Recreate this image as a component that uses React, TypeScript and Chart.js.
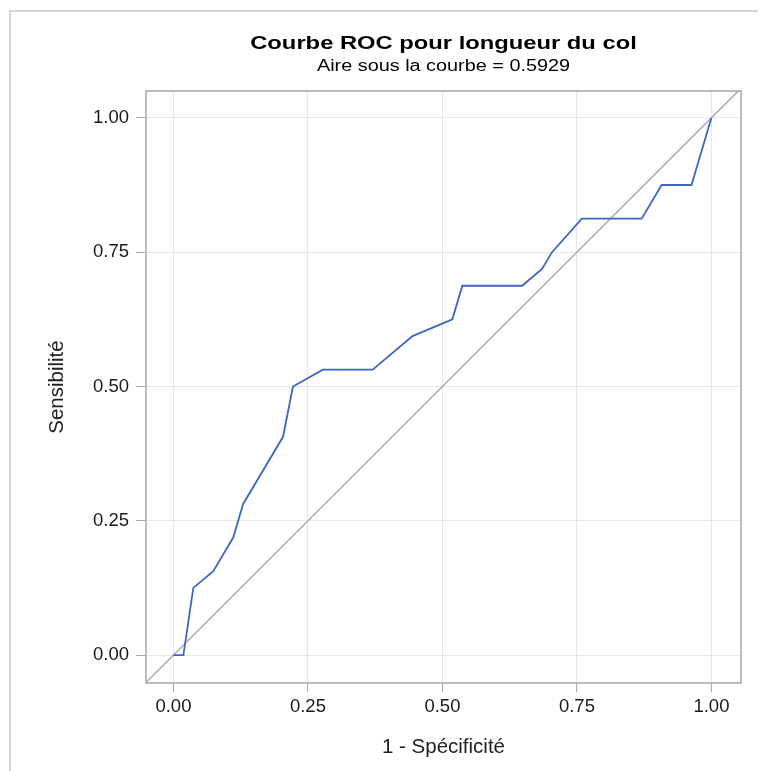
import React, { useEffect, useRef } from "react";
import { Chart, registerables } from "chart.js";

Chart.register(...registerables);

// ROC curve points (1 - specificity, sensitivity)
const fpr = [0, 0.0185, 0.037, 0.0741, 0.1111, 0.1296, 0.2037, 0.2222, 0.2778, 0.3704, 0.4444, 0.5185, 0.537, 0.6481, 0.6852, 0.7037, 0.7593, 0.8704, 0.9074, 0.963, 1];
const tpr = [0, 0, 0.125, 0.1563, 0.2188, 0.2813, 0.4063, 0.5, 0.5313, 0.5313, 0.5938, 0.625, 0.6875, 0.6875, 0.7188, 0.75, 0.8125, 0.8125, 0.875, 0.875, 1];
const diagX = [-0.1, 1.1];
const diagY = [-0.1, 1.1];
const tickValues = [0, 0.25, 0.5, 0.75, 1];

const titleText = "Courbe ROC pour longueur du col";
const subtitleText = "Aire sous la courbe = 0.5929";
const xTitle = "1 - Spécificité";
const yTitle = "Sensibilité";

const W = 758;
const H = 763;
const FONT = '"Liberation Sans", Arial, sans-serif';

const decorPlugin = {
  id: "decor",
  beforeDraw(chart: any) {
    const ctx = chart.ctx;
    ctx.save();
    ctx.fillStyle = "#ffffff";
    ctx.fillRect(0, 0, chart.width, chart.height);
    ctx.fillStyle = "#d6d6d6";
    ctx.fillRect(1, 2, 2, chart.height);
    ctx.fillRect(1, 2, chart.width, 2);
    ctx.restore();
  },
  afterDraw(chart: any) {
    const ctx = chart.ctx;
    const a = chart.chartArea;
    ctx.save();
    // frame
    ctx.strokeStyle = "#a8a8a8";
    ctx.lineWidth = 1.5;
    ctx.strokeRect(a.left, a.top, a.right - a.left, a.bottom - a.top);
    const cx = (a.left + a.right) / 2;
    // title
    ctx.fillStyle = "#000";
    ctx.textAlign = "center";
    ctx.textBaseline = "alphabetic";
    ctx.save();
    ctx.translate(cx, 40.7);
    ctx.scale(1.25, 1);
    ctx.font = `bold 19px ${FONT}`;
    ctx.fillText(titleText, 0, 0);
    ctx.restore();
    ctx.save();
    ctx.translate(cx, 63.3);
    ctx.scale(1.24, 1);
    ctx.font = `16px ${FONT}`;
    ctx.fillText(subtitleText, 0, 0);
    ctx.restore();
    // axis titles
    ctx.font = `20.5px ${FONT}`;
    ctx.fillStyle = "#222";
    ctx.fillText(xTitle, cx, 744.7);
    ctx.save();
    ctx.translate(55.3, (a.top + a.bottom) / 2);
    ctx.rotate(-Math.PI / 2);
    ctx.fillText(yTitle, 0, 0);
    ctx.restore();
    ctx.restore();
  },
};

export default function App() {
  const ref = useRef<HTMLCanvasElement>(null);
  useEffect(() => {
    if (!ref.current) return;
    const setTicks = (scale: any) => {
      scale.ticks = tickValues.map((v) => ({ value: v }));
    };
    const chart = new Chart(ref.current, {
      type: "scatter",
      data: {
        datasets: [
          {
            label: "ROC",
            data: fpr.map((x, i) => ({ x, y: tpr[i] })),
            showLine: true,
            borderColor: "#3f66c4",
            borderWidth: 1.8,
            pointRadius: 0,
            fill: false,
            tension: 0,
          },
          {
            label: "Diagonale",
            data: diagX.map((x, i) => ({ x, y: diagY[i] })),
            showLine: true,
            borderColor: "#ababab",
            borderWidth: 1.5,
            pointRadius: 0,
            fill: false,
          },
        ],
      },
      options: {
        animation: false,
        responsive: false,
        devicePixelRatio: 1,
        layout: { padding: { top: 83, right: 25, bottom: 0, left: 0 } },
        plugins: {
          legend: { display: false },
          title: { display: false },
          tooltip: { enabled: false },
        },
        scales: {
          x: {
            type: "linear",
            min: -0.051,
            max: 1.055,
            afterBuildTicks: setTicks,
            afterFit: (s: any) => {
              s.height = 88;
            },
            border: { display: false },
            grid: { color: "#e6e6e6", tickColor: "#a8a8a8", tickLength: 9, lineWidth: 1 },
            ticks: {
              padding: 4,
              color: "#1a1a1a",
              font: { family: FONT, size: 18.5 },
              maxRotation: 0,
              callback: (v: any) => Number(v).toFixed(2),
            },
          },
          y: {
            type: "linear",
            min: -0.052,
            max: 1.05,
            afterBuildTicks: setTicks,
            afterFit: (s: any) => {
              s.width = 138;
            },
            border: { display: false },
            grid: { color: "#e6e6e6", tickColor: "#a8a8a8", tickLength: 10, lineWidth: 1 },
            ticks: {
              padding: 7,
              color: "#1a1a1a",
              font: { family: FONT, size: 18.5 },
              callback: (v: any) => Number(v).toFixed(2),
            },
          },
        },
      },
      plugins: [decorPlugin],
    });
    return () => chart.destroy();
  }, []);
  return (
    <div style={{ width: W, height: H }}>
      <canvas ref={ref} width={W} height={H} style={{ display: "block", width: W, height: H }} />
    </div>
  );
}
